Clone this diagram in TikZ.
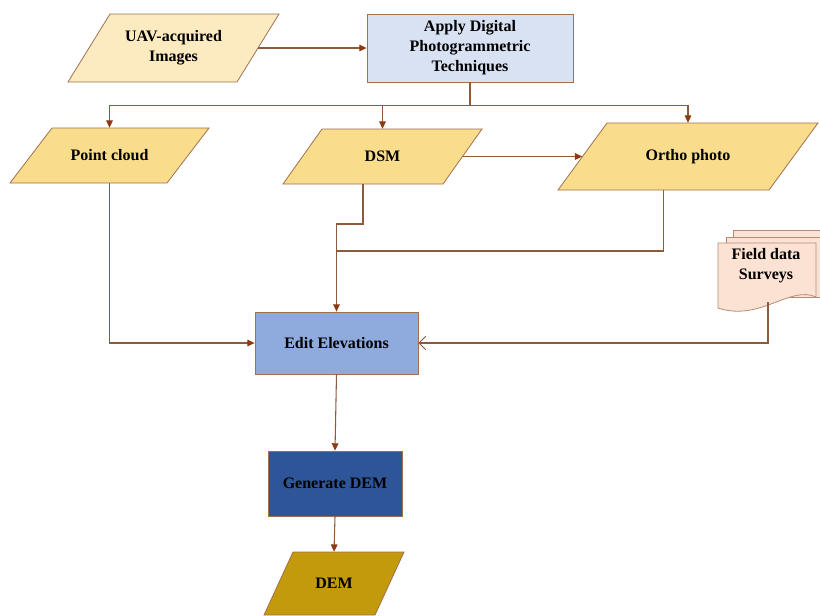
\documentclass[tikz,border=0pt]{standalone}
\usepackage{fontspec}
\setmainfont{Liberation Serif}
\usetikzlibrary{arrows.meta}
\definecolor{ln}{HTML}{8C5A3C}
\definecolor{tipc}{HTML}{8B3A12}
\definecolor{cream}{HTML}{FCEBC1}
\definecolor{applyc}{HTML}{D9E2F3}
\definecolor{gold}{HTML}{FADD8C}
\definecolor{editc}{HTML}{8FAADC}
\definecolor{genc}{HTML}{2E5597}
\definecolor{demc}{HTML}{C29A0C}
\definecolor{fieldc}{HTML}{FBE2D3}
\definecolor{fieldb}{HTML}{B58D77}
\definecolor{bord}{HTML}{A07050}
\newcommand\pxu{0.75pt}
% #1 name, #2 cx, #3 cy, #4 total width, #5 height, #6 slant, #7 fill, #8 text
\newcommand\pgram[8]{%
  \path[pgshape, fill=#7] ({#2-#4/2},{#3+#5/2}) -- ({#2+#4/2-#6},{#3+#5/2})
      -- ({#2+#4/2},{#3-#5/2}) -- ({#2-#4/2+#6},{#3-#5/2}) -- cycle;
  \node[lbl, minimum width={(#4-#6)*\pxu}, minimum height={#5*\pxu}] (#1) at (#2,#3) {#8};
  \coordinate (#1-bs) at ({#2-#6/2},{#3+#5/2});
}
\begin{document}
\begin{tikzpicture}[x=0.75pt,y=-0.75pt,
  lbl/.style={font=\fontsize{12}{15}\selectfont\bfseries, align=center, text=black, inner sep=0pt},
  pgshape/.style={draw=bord, line width=0.6pt},
  boxn/.style={lbl, rectangle, draw=bord, line width=0.6pt},
  conn/.style={draw=ln, line width=0.8pt},
  arr/.style={conn, -{Triangle[length=5.5pt,width=5pt,color=tipc]}},
  barb/.style={conn, -{Straight Barb[length=5pt,width=10pt,line width=0.7pt]}},
  doc/.style={draw=fieldb, fill=fieldc, line width=0.6pt}
]
\useasboundingbox (0,0) rectangle (820,615);
\clip (0,0) rectangle (820,615);

% nodes
\pgram{uav}{173.5}{48}{211}{68}{42}{cream}{UAV-acquired\\Images}
\node[boxn, fill=applyc, minimum width=206*\pxu, minimum height=68*\pxu] (apply) at (470,48)
      {Apply Digital\\Photogrammetric\\Techniques};
\pgram{pc}{109.5}{155.5}{199}{55}{42}{gold}{Point cloud}
\pgram{dsm}{382.5}{156.5}{199}{55}{39}{gold}{DSM}
\pgram{ortho}{688}{156.5}{260}{67}{49}{gold}{Ortho photo}
\node[boxn, fill=editc, minimum width=163*\pxu, minimum height=62*\pxu] (edit) at (336.5,343) {Edit Elevations};
\node[boxn, fill=genc, minimum width=134*\pxu, minimum height=65*\pxu] (gen) at (335,483.5) {Generate DEM};
\pgram{dem}{334}{583.5}{140}{63}{29}{demc}{DEM}

% field data document
\draw[doc] (733,230) rectangle (834,290);
\draw[doc] (726,237) rectangle (827,297);
\draw[doc] (718,243) -- (816,243) -- (816,297)
   .. controls (790,285) and (760,322) .. (718,308) -- cycle;
\node[lbl] (fd) at (766,266) {Field data\\Surveys};
\coordinate (fdb) at (768,302);

% connectors
\draw[arr] (uav.east) -- (apply.west);
\draw[conn] (apply.south) -- ++(0,23) coordinate (bus);
\draw[conn] (bus -| pc.center) -- (bus -| ortho.center);
\draw[arr] (bus -| pc.center) -- (pc.north);
\draw[arr] (bus -| dsm.center) -- (dsm.north);
\draw[arr] (bus -| ortho.center) -- (ortho.north);
\draw[arr] (dsm.east) -- (ortho.west);
\draw[arr] (pc.south) |- (edit.west);
\draw[arr] (dsm-bs) -- ++(0,40) -| (edit.north);
\draw[conn] (ortho-bs) -- ++(0,61) coordinate (oj) -- (oj -| edit.north);
\draw[barb] (fdb) |- (edit.east);
\draw[arr] (edit.south) -- (gen.north);
\draw[arr] (gen.south) -- (dem.north);
\end{tikzpicture}
\end{document}
